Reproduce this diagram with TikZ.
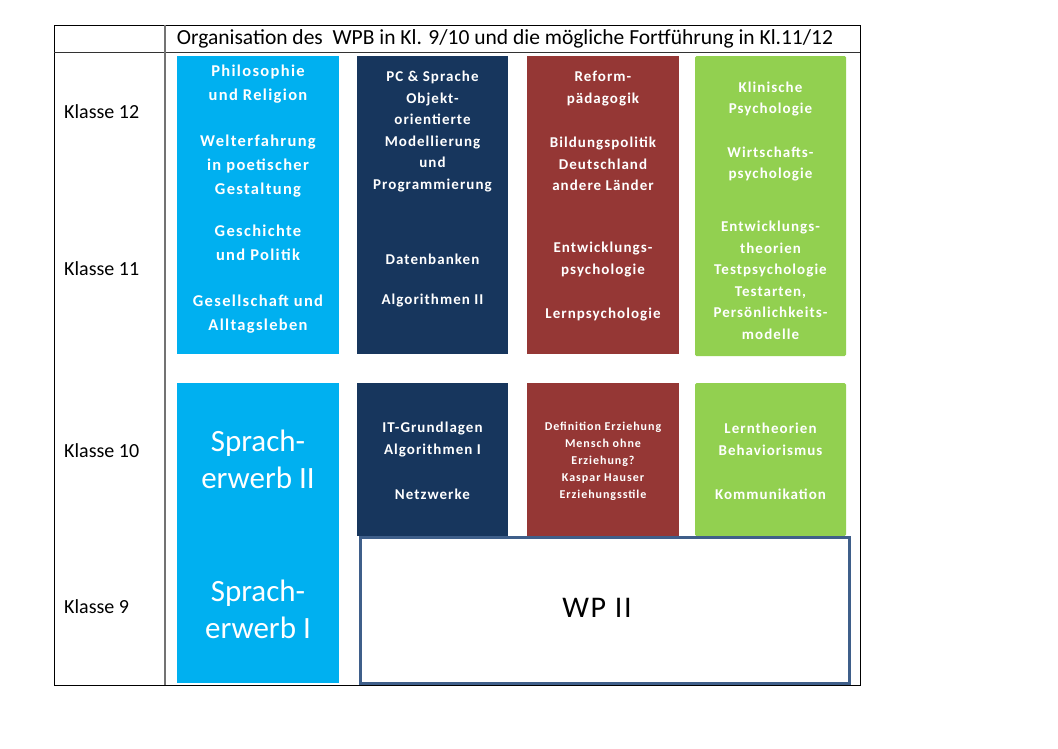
\documentclass[tikz,border=0pt]{standalone}
\usepackage{fontspec}
\setmainfont{Carlito}
\definecolor{cblue}{HTML}{00B0F0}
\definecolor{cnavy}{HTML}{17365D}
\definecolor{cred}{HTML}{953735}
\definecolor{cgreen}{HTML}{92D050}
\definecolor{cframe}{HTML}{3F5F8A}
\begin{document}
\begin{tikzpicture}[x=1pt,y=-1pt,
  blk/.style={draw=none,anchor=north west,inner sep=0pt,outer sep=0pt},
  wt/.style={text=white,align=center,inner sep=0pt,font=\bfseries\fontsize{15}{21.5}\selectfont\addfontfeature{LetterSpace=7}},
  wtb/.style={wt,font=\bfseries\fontsize{16.5}{24}\selectfont\addfontfeature{LetterSpace=8}},
  wts/.style={wt,font=\bfseries\fontsize{12}{17}\selectfont\addfontfeature{LetterSpace=8}},
  big/.style={text=white,align=center,inner sep=0pt,font=\fontsize{31}{37}\selectfont},
  lbl/.style={anchor=west,inner sep=0pt,font=\fontsize{20}{22}\selectfont}]
\useasboundingbox (0,0) rectangle (1058,748);
\fill[white] (0,0) rectangle (1058,748);
% table
\node[draw=black,line width=1.2pt,anchor=north west,minimum width=806,minimum height=660,inner sep=0pt] (tab) at (54,25) {};
\coordinate (hl) at (54,52); \coordinate (hr) at (860,52);
\coordinate (vt) at (165,25); \coordinate (vb) at (165,685);
\draw[line width=1pt,black!80] (hl) -- (hr);
\draw[line width=1.4pt,black!55] (vt) -- (vb);
\node[inner sep=0pt,font=\fontsize{21.5}{23}\selectfont] (head) at (505,39) {Organisation des\ \ WPB in Kl. 9/10 und die mögliche Fortführung in Kl.11/12};
\node[lbl] (k12) at (64,112) {Klasse 12};
\node[lbl] (k11) at (64,269) {Klasse 11};
\node[lbl] (k10) at (64,451) {Klasse 10};
\node[lbl] (k9)  at (64,607) {Klasse 9};
% upper blocks
\node[blk,fill=cblue,minimum width=162,minimum height=298] (bt) at (177,56) {};
\node[blk,fill=cnavy,minimum width=151,minimum height=298] (nt) at (357,56) {};
\node[blk,fill=cred,minimum width=152,minimum height=298] (rt) at (527,56) {};
\node[blk,fill=cgreen,minimum width=151,minimum height=300,rounded corners=1.5pt] (gt) at (695,56) {};
% lower blocks
\node[blk,fill=cblue,minimum width=162,minimum height=300] (bb) at (177,383) {};
\node[blk,fill=cnavy,minimum width=151,minimum height=153] (nb) at (357,383) {};
\node[blk,fill=cred,minimum width=152,minimum height=153] (rb) at (527,383) {};
\node[blk,fill=cgreen,minimum width=151,minimum height=153,rounded corners=1.5pt] (gb) at (695,383) {};
\node[draw=cframe,fill=white,line width=2.5pt,anchor=north west,minimum width=489,minimum height=146,inner sep=0pt] (wp) at (359,536) {};
% texts blue top
\node[wtb] (t1) at (258,84) {Philosophie\\und Religion};
\node[wtb] (t2) at (258,166.5) {Welterfahrung\\in poetischer\\Gestaltung};
\node[wtb] (t3) at (258,243) {Geschichte\\und Politik};
\node[wtb] (t4) at (258,314) {Gesellschaft und\\Alltagsleben};
% navy top
\node[wt] (n1) at (432.5,131.5) {PC \& Sprache\\Objekt-\\orientierte\\Modellierung\\und\\Programmierung};
\node[wt] (n2) at (432.5,259) {Datenbanken};
\node[wt] (n3) at (432.5,301) {Algorithmen II};
% red top
\node[wt] (r1) at (603,88.5) {Reform-\\pädagogik};
\node[wt] (r2) at (603,164) {Bildungspolitik\\Deutschland\\andere Länder};
\node[wt] (r3) at (603,259.5) {Entwicklungs-\\psychologie};
\node[wt] (r4) at (603,314) {Lernpsychologie};
% green top
\node[wt] (g1) at (770.5,99) {Klinische\\Psychologie};
\node[wt] (g2) at (770.5,164) {Wirtschafts-\\psychologie};
\node[wt] (g3) at (770.5,280.5) {Entwicklungs-\\theorien\\Testpsychologie\\Testarten,\\Persönlichkeits-\\modelle};
% lower texts
\node[big] (s2) at (258,459) {Sprach-\\erwerb II};
\node[big] (s1) at (258,609) {Sprach-\\erwerb I};
\node[wt] (n4) at (432.5,439.5) {IT-Grundlagen\\Algorithmen I};
\node[wt] (n5) at (432.5,494) {Netzwerke};
\node[wts] (r5) at (603,461) {Definition Erziehung\\Mensch ohne\\Erziehung?\\Kaspar Hauser\\Erziehungsstile};
\node[wt] (g4) at (770.5,439.5) {Lerntheorien\\Behaviorismus};
\node[wt] (g5) at (770.5,494) {Kommunikation};
\node[inner sep=0pt,font=\fontsize{30}{32}\selectfont\addfontfeature{LetterSpace=6}] (wptxt) at (597,608) {WP II};
\end{tikzpicture}
\end{document}
